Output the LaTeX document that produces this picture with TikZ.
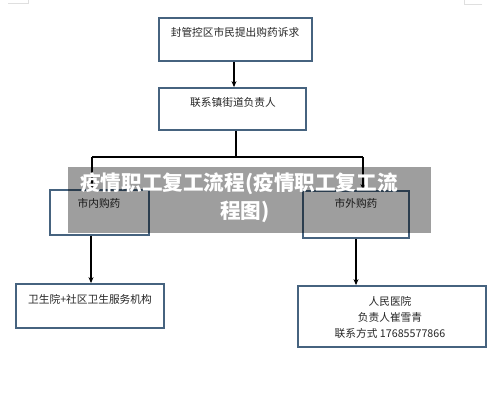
\documentclass[tikz,border=0pt]{standalone}
\usepackage{fontspec}
\newfontfamily\cjk{Noto Sans CJK SC}
\usetikzlibrary{arrows.meta}
\definecolor{boxblue}{HTML}{46637F}
\tikzset{
  box/.style={draw=boxblue, line width=1.8pt, fill=white, inner sep=0pt, minimum width=#1},
  lbl/.style={font=\cjk\fontsize{10.7}{13}\selectfont, text=black!85, inner sep=0pt, align=center},
  conn/.style={line width=1.1pt, black},
  arr/.style={conn, -{Stealth[length=6pt,width=5pt]}},
  wm/.style={font=\cjk\bfseries\fontsize{20.6}{23}\selectfont, text=white, inner sep=0pt}
}
\begin{document}
\begin{tikzpicture}[x=1pt,y=-1pt]
\useasboundingbox (0,0) rectangle (500,400);
\fill[white] (0,0) rectangle (500,400);
% faint corner marks
\draw[gray!25, line width=0.8pt] (8,3) -- (28,3) -- (28,0);
\draw[gray!25, line width=0.8pt] (482,4) -- (464,4) -- (464,0);
% boxes
\node[box=153pt, minimum height=43pt] (b1) at (235.5,39.5) {};
\node[box=147pt, minimum height=42pt] (b2) at (232.5,109) {};
\node[box=99pt, minimum height=45pt] (b3) at (99.5,212.5) {};
\node[box=106pt, minimum height=47pt] (b4) at (356,214.5) {};
\node[box=148pt, minimum height=44pt] (b5) at (90,306) {};
\node[box=188pt, minimum height=61pt] (b6) at (392,316.5) {};
% texts
\node[lbl] (t1) at (235,32) {封管控区市民提出购药诉求};
\node[lbl] (t2) at (233,102) {联系镇街道负责人};
\node[lbl] (t3) at (99,203) {市内购药};
\node[lbl] (t4) at (356,203) {市外购药};
\node[lbl] (t5) at (90,299) {卫生院+社区卫生服务机构};
\node[lbl] (t6a) at (390,301) {人民医院};
\node[lbl] (t6b) at (390,317) {负责人崔雪青};
\node[lbl] (t6c) at (390,333) {联系方式 17685577866};
% connectors
\coordinate (jc) at (236,157);
\coordinate (jl) at (92,157);
\coordinate (jr) at (363,157);
\draw[arr] (b1.south -| 234,0) -- (b2.north -| 234,0);
\draw[conn] (b2.south -| jc) -- (jc);
\draw[conn] (jl) -- (jr);
\draw[arr] (jl) -- (b3.north -| jl);
\draw[arr] (jr) -- (b4.north -| jr);
\draw[arr] (b3.south -| 91,0) -- (b5.north -| 91,0);
\draw[arr] (b4.south -| 356,0) -- (b6.north -| 356,0);
% watermark
\fill[black, opacity=0.38] (68,167) rectangle (431,233);
\node[wm] (w1) at (239,184) {疫情职工复工流程(疫情职工复工流};
\node[wm] (w2) at (245,212) {程图)};
\end{tikzpicture}
\end{document}
